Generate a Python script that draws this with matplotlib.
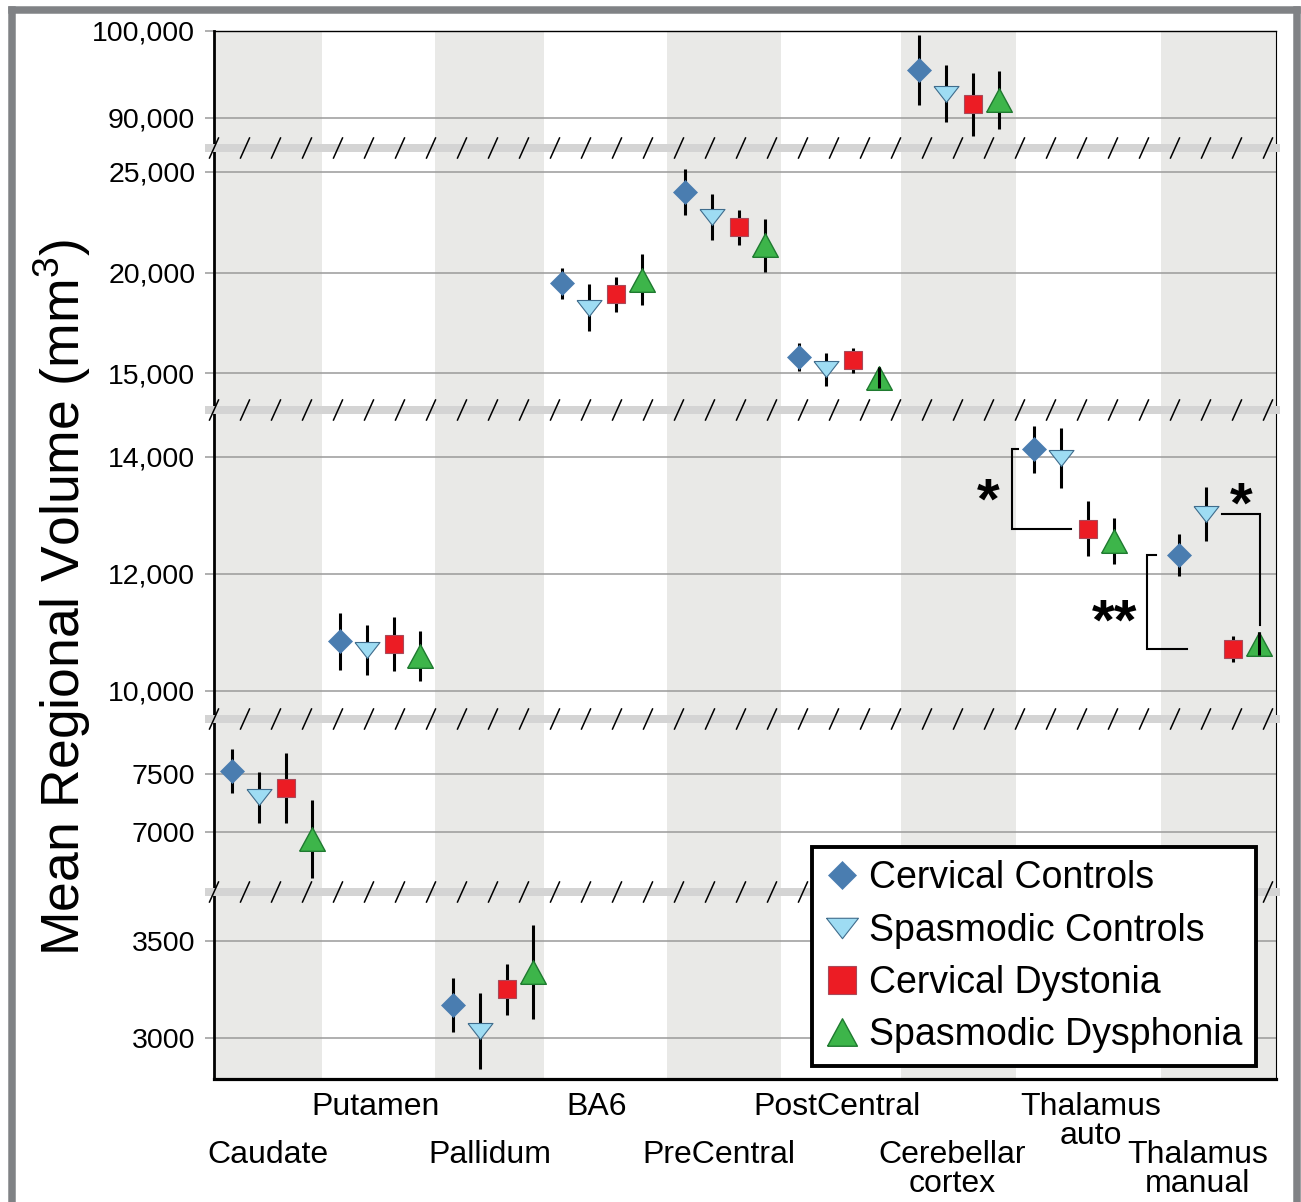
import matplotlib
matplotlib.use("Agg")
import matplotlib.pyplot as plt
from matplotlib.lines import Line2D
from matplotlib.font_manager import FontProperties
import numpy as np

# ---------------- data ----------------
categories = ["Caudate", "Putamen", "Pallidum", "BA6", "PreCentral", "PostCentral",
              "Cerebellar\ncortex", "Thalamus\nauto", "Thalamus\nmanual"]
groups = ["Cervical Controls", "Spasmodic Controls", "Cervical Dystonia", "Spasmodic Dysphonia"]

cervical_controls = [7530, 10845, 3170, 19460, 24000, 15820, 95500, 14125, 12325]
cervical_controls_err = [195, 485, 140, 785, 1155, 680, 4000, 400, 360]
spasmodic_controls = [7300, 10695, 3035, 18260, 22740, 15200, 92750, 13980, 13020]
spasmodic_controls_err = [220, 435, 195, 1155, 1140, 825, 3300, 515, 455]
cervical_dystonia = [7385, 10800, 3250, 18925, 22235, 15645, 91550, 12765, 10715]
cervical_dystonia_err = [305, 465, 130, 875, 890, 605, 3620, 470, 225]
spasmodic_dysphonia = [6940, 10590, 3340, 19655, 21345, 14800, 92000, 12555, 10800]
spasmodic_dysphonia_err = [340, 425, 240, 1280, 1335, 535, 3350, 390, 195]

# broken-axis segment of each region (0 = top segment)
region_segment = [3, 2, 4, 1, 1, 1, 0, 2, 2]
segment_limits = [(86505, 100000), (13191, 26174), (9516, 14798), (6475, 7982), (2791, 3749)]
segment_ticks = [[90000, 100000], [15000, 20000, 25000], [10000, 12000, 14000],
                 [7000, 7500], [3000, 3500]]

# significance brackets: (region index, group a, group b, label)
significance = [(7, 0, 2, "*"), (8, 0, 2, "**"), (8, 1, 3, "*")]

means = [cervical_controls, spasmodic_controls, cervical_dystonia, spasmodic_dysphonia]
errs = [cervical_controls_err, spasmodic_controls_err, cervical_dystonia_err, spasmodic_dysphonia_err]

# ---------------- layout (pixels) ----------------
W, H = 1301, 1202
DPI = 100
plot_left, plot_right = 214, 1276
seg_edges = [31, 148, 410, 719, 892, 1079]
col_edges = [214, 322, 435, 544, 667, 781, 901, 1016, 1161, 1276]
group_offsets = [18, 45, 72, 98]
label_nudge = [0, -3, 0, -9, -5, -4, -6, 2, -21]
label_tops = [1092, 1140]

plt.rcParams["font.family"] = ["Liberation Sans", "DejaVu Sans"]
plt.rcParams["mathtext.fontset"] = "custom"
plt.rcParams["mathtext.rm"] = "Liberation Sans"
plt.rcParams["mathtext.it"] = "Liberation Sans:italic"

tri_down = [(-1, 0.64), (1, 0.64), (0, -0.64), (-1, 0.64)]
tri_up = [(-1, -0.92), (1, -0.92), (0, 0.92), (-1, -0.92)]
styles = [
    dict(marker="D", ms=12.2, mfc="#4A7DB0", mec="#4A7DB0", mew=0.5),
    dict(marker=tri_down, ms=18, mfc="#9EDCF3", mec="#3F6C8C", mew=0.8),
    dict(marker="s", ms=13, mfc="#EC1C24", mec="#A84A5A", mew=0.8),
    dict(marker=tri_up, ms=18.5, mfc="#3DB54A", mec="#1F7A30", mew=1.0),
]
half_heights_px = [12, 8, 9, 12]
legend_ms = [14.3, 23, 19.5, 21.5]

GRID = "#9A9A9A"
SHADE = "#E9E9E7"

fig = plt.figure(figsize=(W / DPI, H / DPI), dpi=DPI)

def fx(px):
    return px / W

def fy(py):
    return 1 - py / H

xmax = plot_right - plot_left
cols = [c - plot_left for c in col_edges]
axes = []
for s in range(5):
    top, bot = seg_edges[s], seg_edges[s + 1]
    ax = fig.add_axes([fx(plot_left), fy(bot), (plot_right - plot_left) / W, (bot - top) / H])
    ax.set_xlim(0, xmax)
    ax.set_ylim(*segment_limits[s])
    for i in range(0, len(categories), 2):
        ax.axvspan(cols[i], cols[i + 1], color=SHADE, lw=0, zorder=0)
    ax.set_yticks(segment_ticks[s])
    ax.yaxis.set_major_formatter(plt.FuncFormatter(
        lambda v, p: f"{v:,.0f}" if v >= 10000 else f"{v:.0f}"))
    ax.yaxis.grid(True, color=GRID, lw=1.1, zorder=1)
    ax.set_axisbelow(True)
    ax.tick_params(axis="y", length=6.5, width=1.1, color=GRID, pad=7, labelsize=20.5)
    ax.set_xticks([])
    for side in ["top", "bottom"]:
        ax.spines[side].set_visible(False)
    ax.spines["left"].set_linewidth(2.0)
    ax.spines["right"].set_linewidth(0.8)
    if s == 0:
        ax.spines["top"].set_visible(True)
        ax.spines["top"].set_linewidth(1.0)
    if s == 4:
        ax.spines["bottom"].set_visible(True)
        ax.spines["bottom"].set_linewidth(2.3)
    ax.set_facecolor("white")
    axes.append(ax)

def xpos(cat, g):
    return cols[cat] + group_offsets[g]

for cat in range(len(categories)):
    ax = axes[region_segment[cat]]
    lo, hi = segment_limits[region_segment[cat]]
    seg = region_segment[cat]
    px_per_unit = (seg_edges[seg + 1] - seg_edges[seg]) / (hi - lo)
    for g in range(4):
        x = xpos(cat, g)
        y = means[g][cat]
        e = errs[g][cat]
        ax.vlines(x, y - e, y + e, color="black", lw=2.2, zorder=3)
        st = styles[g]
        ax.plot([x], [y], linestyle="none", marker=st["marker"], ms=st["ms"],
                mfc=st["mfc"], mec=st["mec"], mew=st["mew"], zorder=4)
        if e * px_per_unit < half_heights_px[g]:
            ax.vlines(x, y - e, y + e, color="black", lw=2.2, zorder=5)

# significance brackets on the thalamus segment
axt = axes[2]
lo, hi = segment_limits[2]
upx = (hi - lo) / (seg_edges[3] - seg_edges[2])  # data units per pixel
bk = dict(color="black", lw=1.5, zorder=6, solid_joinstyle="miter")
star_font = dict(fontsize=42, fontweight="bold", ha="center", va="center")
for n, (cat, ga, gb, lab) in enumerate(significance):
    ya, yb = means[ga][cat], means[gb][cat]
    if n == 0:
        xv = cols[cat] - 4
        axt.plot([cols[cat] + 2, xv, xv, xpos(cat, gb) - 17], [ya, ya, yb, yb], **bk)
        axt.annotate(lab, xy=(xv, (ya + yb) / 2), xytext=(-24 * 0.72, -14 * 0.72),
                     textcoords="offset points", **star_font)
    elif n == 1:
        xv = cols[cat] - 14
        axt.plot([cols[cat] - 5, xv, xv, xpos(cat, gb) - 46], [ya, ya, yb, yb], **bk)
        axt.annotate(lab, xy=(xv, (ya + yb) / 2), xytext=(-32 * 0.72, -23 * 0.72),
                     textcoords="offset points", **star_font)
    else:
        x0 = xpos(cat, ga) + 16
        x1 = xpos(cat, gb) + 1
        yend = yb + 19 * upx
        axt.plot([x0, x1, x1], [ya, ya, yend], **bk)
        axt.annotate(lab, xy=((x0 + x1) / 2, ya), xytext=(0, 6 * 0.72),
                     textcoords="offset points", **star_font)

# axis-break bands with slashes
for yb in seg_edges[1:-1]:
    fig.add_artist(Line2D([fx(205), fx(1280)], [fy(yb), fy(yb)], color="#D4D4D4",
                          lw=8 * 0.72, zorder=2, transform=fig.transFigure,
                          solid_capstyle="butt"))
    x = plot_left
    while x <= plot_right:
        fig.add_artist(Line2D([fx(x - 4.5), fx(x + 4.5)], [fy(yb + 10), fy(yb - 10)],
                              color="black", lw=1.1, zorder=3, transform=fig.transFigure))
        x += 31

# category labels, staggered in two rows
for i, cat in enumerate(categories):
    cx = (col_edges[i] + col_edges[i + 1]) / 2 + label_nudge[i]
    row = 0 if i % 2 == 1 else 1
    fig.text(fx(cx), fy(label_tops[row]), cat, ha="center", va="top", fontsize=23,
             linespacing=0.97)

# y-axis label
fig.text(fx(62), fy(597), "Mean Regional Volume (mm$^{3}$)", rotation=90,
         ha="center", va="center", fontsize=38.5)

# legend
handles = []
for g in range(4):
    st = styles[g]
    handles.append(Line2D([], [], linestyle="none", marker=st["marker"], ms=legend_ms[g],
                          mfc=st["mfc"], mec=st["mec"], mew=st["mew"]))
leg = fig.legend(handles, groups, loc="upper left", bbox_to_anchor=(fx(812), fy(847)),
                 borderaxespad=0, frameon=True, fancybox=False, edgecolor="black",
                 framealpha=1, prop=FontProperties(family="Liberation Sans", size=27),
                 handlelength=0.9, handletextpad=0.25, borderpad=0.36, labelspacing=0.43)
leg.get_frame().set_linewidth(2.8)
leg.set_zorder(10)

# outer gray frame
frame_kw = dict(color="#808285", lw=7.5 * 0.72, transform=fig.transFigure, zorder=20,
                solid_capstyle="projecting")
fig.add_artist(Line2D([fx(12), fx(12)], [fy(9.7), fy(1210)], **frame_kw))
fig.add_artist(Line2D([fx(12), fx(1296.5)], [fy(9.7), fy(9.7)], **frame_kw))
fig.add_artist(Line2D([fx(1296.5), fx(1296.5)], [fy(9.7), fy(1210)], **frame_kw))

fig.savefig("out.png", dpi=DPI)
